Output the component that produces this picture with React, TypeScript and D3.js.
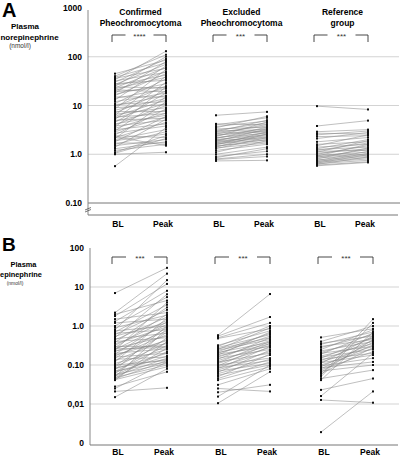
import React from "react";
import * as d3 from "d3";

const groups = ["Confirmed\nPheochromocytoma", "Excluded\nPheochromocytoma", "Reference\ngroup"];
const timepoints = ["BL", "Peak"];
const topTicks = [1000, 100, 10, 1, 0.1];
const topTickLabels = ["1000", "100", "10", "1.0", "0.10"];
const botTicks = [100, 10, 1, 0.1, 0.01, 0.001];
const botTickLabels = ["100", "10", "1.0", "0.10", "0,01", "0"];
const topStars = ["****", "***", "***"];
const botStars = ["***", "***", "***"];

// Plasma norepinephrine (nmol/l): [BL, Peak]
const neConfirmed: [number, number][] = [
  [0.57, 3.5], [1.0, 1.1], [1.05, 2.1], [1.1, 2.4], [1.2, 1.6], [1.3, 1.8], [1.4, 5.2], [1.5, 2.0],
  [1.6, 2.9], [1.7, 1.7], [1.8, 6.0], [1.9, 2.6], [2.0, 3.2], [2.1, 12], [2.2, 4.5], [2.3, 1.5],
  [2.4, 2.2], [2.5, 8.5], [2.7, 3.8], [2.9, 5.8], [3.0, 15], [3.2, 4.2], [3.4, 7.0], [3.6, 24],
  [3.8, 5.0], [4.0, 10], [4.2, 6.3], [4.5, 18], [4.8, 8.0], [5.0, 5.5], [5.2, 30], [5.5, 11],
  [5.8, 6.8], [6.0, 13], [6.3, 40], [6.6, 9.0], [7.0, 20], [7.5, 7.5], [8.0, 14], [8.5, 55],
  [9.0, 10.5], [9.5, 25], [10, 16], [10.5, 12], [11, 35], [12, 18], [13, 65], [14, 22],
  [15, 15], [16, 45], [17, 28], [18, 80], [19, 24], [20, 50], [21, 19], [22, 38],
  [23, 60], [24, 23], [25, 100], [26, 42], [27, 70], [28, 33], [30, 90], [32, 48],
  [34, 130], [36, 58], [38, 75], [40, 110], [45, 85],
];
const neExcluded: [number, number][] = [
  [6.3, 7.4], [4.2, 4.0], [4.0, 5.6], [3.7, 4.8], [3.5, 6.0], [3.3, 3.6], [3.1, 4.4], [3.0, 3.2],
  [2.9, 5.0], [2.8, 3.8], [2.7, 3.0], [2.6, 4.1], [2.5, 2.9], [2.4, 3.4], [2.3, 4.6], [2.2, 2.7],
  [2.15, 3.1], [2.1, 3.6], [2.0, 2.5], [1.95, 2.8], [1.9, 2.2], [1.85, 3.3], [1.8, 2.4], [1.75, 2.1],
  [1.7, 2.6], [1.65, 1.95], [1.6, 2.3], [1.55, 2.9], [1.5, 1.8], [1.45, 2.0], [1.4, 2.6], [1.35, 1.7],
  [1.3, 2.2], [1.2, 1.6], [1.1, 1.9], [1.0, 1.4], [0.9, 1.15], [0.85, 1.3], [0.8, 1.0], [0.78, 0.9],
  [0.73, 0.75],
];
const neReference: [number, number][] = [
  [9.7, 8.3], [3.8, 4.9], [2.9, 3.2], [2.7, 2.6], [2.5, 3.0], [2.3, 2.4], [2.1, 2.8], [1.8, 2.2],
  [1.6, 1.8], [1.5, 2.5], [1.4, 1.6], [1.3, 2.0], [1.25, 1.4], [1.2, 1.7], [1.15, 1.2], [1.1, 1.9],
  [1.05, 1.3], [1.0, 1.5], [0.95, 1.1], [0.92, 1.6], [0.9, 1.0], [0.87, 1.25], [0.84, 0.95], [0.8, 1.35],
  [0.77, 0.9], [0.74, 1.15], [0.72, 0.85], [0.7, 1.05], [0.68, 0.8], [0.66, 0.98], [0.64, 0.75], [0.62, 0.88],
  [0.6, 0.7], [0.58, 0.68],
];

// Plasma epinephrine (nmol/l): [BL, Peak]
const epConfirmed: [number, number][] = [
  [7.0, 31], [2.2, 22], [2.0, 4.5], [1.8, 12], [1.5, 2.2], [1.3, 8], [1.2, 1.5], [1.0, 5.5],
  [0.9, 1.9], [0.8, 15], [0.75, 1.0], [0.7, 3.5], [0.65, 0.8], [0.6, 2.6], [0.55, 1.2], [0.5, 6.5],
  [0.47, 0.65], [0.44, 1.7], [0.4, 0.5], [0.38, 3.0], [0.35, 0.95], [0.32, 1.4], [0.3, 0.3], [0.28, 2.0],
  [0.27, 0.55], [0.26, 0.28], [0.25, 1.1], [0.24, 4.0], [0.23, 0.35], [0.22, 0.75], [0.2, 0.26], [0.19, 1.3],
  [0.18, 0.42], [0.17, 0.6], [0.16, 0.2], [0.15, 0.9], [0.14, 0.16], [0.13, 0.45], [0.12, 1.6], [0.11, 0.25],
  [0.1, 0.13], [0.095, 0.7], [0.09, 0.38], [0.085, 0.14], [0.08, 0.2], [0.075, 1.0], [0.07, 0.12], [0.068, 0.32],
  [0.065, 0.17], [0.06, 0.5], [0.057, 0.11], [0.055, 0.22], [0.052, 0.15], [0.05, 0.85], [0.048, 0.1], [0.046, 0.27],
  [0.044, 0.13], [0.042, 0.09], [0.041, 0.4], [0.028, 0.067], [0.025, 0.12], [0.021, 0.026], [0.015, 0.08],
];
const epExcluded: [number, number][] = [
  [0.58, 6.6], [0.55, 1.7], [0.5, 1.2], [0.48, 0.85], [0.32, 0.75], [0.3, 1.0], [0.28, 0.6], [0.26, 0.5],
  [0.25, 0.9], [0.24, 0.45], [0.22, 0.65], [0.21, 0.38], [0.2, 0.55], [0.19, 0.3], [0.18, 0.7], [0.17, 0.35],
  [0.16, 0.42], [0.15, 0.25], [0.14, 0.5], [0.13, 0.32], [0.12, 0.2], [0.115, 0.4], [0.11, 0.28], [0.1, 0.15],
  [0.095, 0.36], [0.09, 0.22], [0.085, 0.13], [0.08, 0.3], [0.075, 0.18], [0.07, 0.11], [0.065, 0.24], [0.06, 0.14],
  [0.055, 0.1], [0.05, 0.19], [0.045, 0.12], [0.041, 0.09], [0.031, 0.08], [0.025, 0.021], [0.02, 0.031], [0.0155, 0.1],
  [0.0105, 0.067],
];
const epReference: [number, number][] = [
  [0.51, 0.85], [0.4, 1.0], [0.36, 0.55], [0.34, 0.7], [0.3, 0.45], [0.28, 0.6], [0.25, 0.8], [0.23, 0.4],
  [0.21, 0.5], [0.2, 0.3], [0.19, 0.65], [0.17, 0.35], [0.16, 0.25], [0.15, 0.5], [0.14, 0.2], [0.13, 0.42],
  [0.12, 0.3], [0.115, 0.18], [0.11, 0.55], [0.1, 0.26], [0.095, 0.15], [0.09, 0.38], [0.085, 0.12], [0.08, 0.33],
  [0.075, 0.22], [0.07, 0.1], [0.065, 0.45], [0.06, 0.28], [0.055, 1.5], [0.05, 1.2], [0.045, 0.074], [0.041, 0.7],
  [0.023, 0.045], [0.016, 0.2], [0.0127, 0.0108], [0.0019, 0.021],
];

const FONT = "'Liberation Sans', Arial, Helvetica, sans-serif";

type Label = { text: string; x: number; y: number; size: number; bold: boolean };

type PanelProps = {
  letter: string;
  letterY: number;
  letterSize: number;
  labels: Label[];
  data: [number, number][][];
  ticks: number[];
  tickLabels: string[];
  stars: string[];
  y: d3.ScaleLogarithmic<number, number>;
  xBL: d3.ScaleLinear<number, number>;
  peakOffset: number;
  axisX: number;
  axisTop: number;
  axisBottom: number;
  bracketY: number;
  showTitles: boolean;
  darkLineAt?: number;
  xLabelY: number;
};

function Panel(p: PanelProps) {
  const gridTicks = p.ticks.filter((t) => p.y(t) > p.axisTop + 5 && p.y(t) < p.axisBottom - 5 && t !== p.darkLineAt);
  return (
    <g>
      <text x={2} y={p.letterY} fontSize={p.letterSize} fontWeight="bold" fontFamily={FONT}>{p.letter}</text>
      {p.labels.map((l, i) => (
        <text key={i} x={l.x} y={l.y} fontSize={l.size} fontWeight={l.bold ? "bold" : "normal"} textAnchor="middle" fontFamily={FONT} fill={l.bold ? "#000" : "#333"}>{l.text}</text>
      ))}
      {gridTicks.map((t) => (
        <line key={t} x1={p.axisX} x2={399} y1={p.y(t)} y2={p.y(t)} stroke="#c8c8c8" strokeWidth={0.8} />
      ))}
      {p.darkLineAt !== undefined && (
        <line x1={p.axisX} x2={400} y1={p.y(p.darkLineAt)} y2={p.y(p.darkLineAt)} stroke="#777" strokeWidth={1} />
      )}
      <line x1={p.axisX} x2={p.axisX} y1={p.axisTop} y2={p.axisBottom} stroke="#888" strokeWidth={1} />
      <line x1={p.axisX} x2={398} y1={p.axisBottom} y2={p.axisBottom} stroke="#777" strokeWidth={1} />
      {p.darkLineAt !== undefined && (
        <g stroke="#555" strokeWidth={0.8}>
          <line x1={p.axisX - 3} x2={p.axisX + 3} y1={p.axisBottom - 5} y2={p.axisBottom - 7.5} />
          <line x1={p.axisX - 3} x2={p.axisX + 3} y1={p.axisBottom - 3} y2={p.axisBottom - 5.5} />
        </g>
      )}
      {p.ticks.map((t, i) => (
        <text key={t} x={p.axisX - 6} y={p.y(t) + 3} fontSize={8.5} fontWeight="bold" textAnchor="end" fontFamily={FONT}>{p.tickLabels[i]}</text>
      ))}
      {p.data.map((series, g) => {
        const x0 = p.xBL(g);
        const x1 = x0 + p.peakOffset;
        const [t1, t2] = groups[g].split("\n");
        const cx = (x0 + x1) / 2;
        return (
          <g key={g}>
            {p.showTitles && (
              <g fontFamily={FONT} fontSize={8.5} fontWeight="bold" textAnchor="middle">
                <text x={cx} y={15}>{t1}</text>
                <text x={cx} y={26}>{t2}</text>
              </g>
            )}
            <g stroke="#333" strokeWidth={0.9} fill="none">
              <polyline points={`${x0 - 3},${p.bracketY + 7} ${x0 - 3},${p.bracketY} ${cx - 15},${p.bracketY}`} />
              <polyline points={`${cx + 13},${p.bracketY} ${x1},${p.bracketY} ${x1},${p.bracketY + 7}`} />
            </g>
            <text x={cx - 1} y={p.bracketY + 4} fontSize={8} textAnchor="middle" fontFamily={FONT} fill="#333">{p.stars[g]}</text>
            {series.map((d, i) => (
              <line key={"l" + i} x1={x0} x2={x1} y1={p.y(d[0])} y2={p.y(d[1])} stroke="#8a8a8a" strokeWidth={0.55} />
            ))}
            {series.map((d, i) => (
              <g key={"p" + i} fill="#111">
                <rect x={x0 - 1} y={p.y(d[0]) - 1} width={2} height={2} />
                <rect x={x1 - 1} y={p.y(d[1]) - 1} width={2} height={2} />
              </g>
            ))}
            <text x={x0 + 3} y={p.xLabelY} fontSize={8.5} fontWeight="bold" textAnchor="middle" fontFamily={FONT}>{timepoints[0]}</text>
            <text x={x1 - 3} y={p.xLabelY} fontSize={8.5} fontWeight="bold" textAnchor="middle" fontFamily={FONT}>{timepoints[1]}</text>
          </g>
        );
      })}
    </g>
  );
}

export default function App() {
  const yTop = d3.scaleLog().domain([0.1, 1000]).range([203, 8]);
  const yBot = d3.scaleLog().domain([0.001, 100]).range([443, 248]);
  const xTop = d3.scaleLinear().domain([0, 2]).range([115, 317]);
  const xBot = d3.scaleLinear().domain([0, 2]).range([115, 321]);
  return (
    <svg width={400} height={456} style={{ position: "absolute", left: 0, top: 0, background: "#fff" }}>
      <rect width={400} height={456} fill="#fff" />
      <Panel
        letter="A"
        letterY={17}
        letterSize={20}
        labels={[
          { text: "Plasma", x: 25, y: 29, size: 8, bold: true },
          { text: "norepinephrine", x: 29.5, y: 39.5, size: 8, bold: true },
          { text: "(nmol/l)", x: 20, y: 47.5, size: 6.5, bold: false },
        ]}
        data={[neConfirmed, neExcluded, neReference]}
        ticks={topTicks}
        tickLabels={topTickLabels}
        stars={topStars}
        y={yTop}
        xBL={xTop}
        peakOffset={51}
        axisX={88}
        axisTop={10}
        axisBottom={215}
        bracketY={35}
        showTitles={true}
        darkLineAt={0.1}
        xLabelY={227}
      />
      <Panel
        letter="B"
        letterY={251}
        letterSize={19}
        labels={[
          { text: "Plasma", x: 23.5, y: 267, size: 7.4, bold: true },
          { text: "epinephrine", x: 21, y: 277, size: 7.4, bold: true },
          { text: "(nmol/l)", x: 15, y: 284.5, size: 5, bold: false },
        ]}
        data={[epConfirmed, epExcluded, epReference]}
        ticks={botTicks}
        tickLabels={botTickLabels}
        stars={botStars}
        y={yBot}
        xBL={xBot}
        peakOffset={52}
        axisX={90}
        axisTop={248}
        axisBottom={445}
        bracketY={257}
        showTitles={false}
        xLabelY={455}
      />
    </svg>
  );
}
